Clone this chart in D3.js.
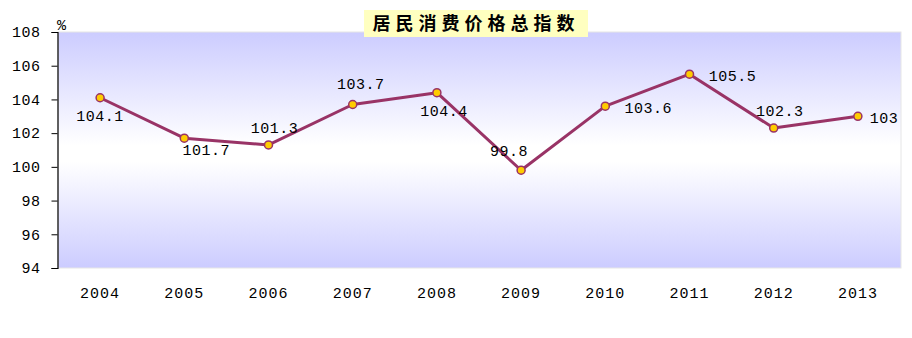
<!DOCTYPE html>
<html>
<head>
<meta charset="utf-8">
<script src="https://cdn.jsdelivr.net/npm/d3@7/dist/d3.min.js"></script>
<style>
  html, body { margin: 0; padding: 0; background: #fff; }
  svg { display: block; }
  .mono { font-family: "Liberation Mono", "DejaVu Sans Mono", monospace; }
</style>
</head>
<body>
<svg id="chart" width="912" height="338"></svg>
<script>
const title = "居民消费价格总指数";
const unitLabel = "%";
const years = ["2004","2005","2006","2007","2008","2009","2010","2011","2012","2013"];
const values = [104.1, 101.7, 101.3, 103.7, 104.4, 99.8, 103.6, 105.5, 102.3, 103];
const valueLabels = ["104.1","101.7","101.3","103.7","104.4","99.8","103.6","105.5","102.3","103"];
const yTicks = [94, 96, 98, 100, 102, 104, 106, 108];

// label offsets relative to the point (pixels)
const labelOffsets = [[0,18],[22,12],[6,-17],[8,-21],[7,18],[-12,-19],[43,2],[43,2],[6,-17],[26,1]];

const svg = d3.select("#chart");
const pL = 58, pR = 900, pT = 32, pB = 268;

const x = d3.scalePoint().domain(years).range([pL, pR]).padding(0.5);
const y = d3.scaleLinear().domain([94, 108]).range([pB, pT]);

const defs = svg.append("defs");
const grad = defs.append("linearGradient").attr("id","bg").attr("x1",0).attr("x2",0).attr("y1",0).attr("y2",1);
grad.append("stop").attr("offset","0%").attr("stop-color","#ccccff");
grad.append("stop").attr("offset","48%").attr("stop-color","#ffffff");
grad.append("stop").attr("offset","55%").attr("stop-color","#ffffff");
grad.append("stop").attr("offset","100%").attr("stop-color","#ccccff");

svg.append("rect").attr("x", pL).attr("y", pT).attr("width", pR - pL + 1).attr("height", pB - pT)
  .attr("fill","url(#bg)").attr("stroke","#e6e6e6").attr("stroke-width",1);

// y axis
const yAxis = svg.append("g").attr("transform", `translate(${pL - 0.5},0)`)
  .call(d3.axisLeft(y).tickValues(yTicks).tickSize(6).tickPadding(11).tickFormat(d3.format("d")));
yAxis.select(".domain").attr("stroke","#000").attr("stroke-width",1.2);
yAxis.selectAll(".tick line").attr("stroke","#000");
yAxis.selectAll("text").attr("class","mono").attr("font-size",15).attr("fill","#000")
  .attr("letter-spacing","0.5px");

// x labels
svg.append("g").selectAll("text").data(years).join("text")
  .attr("class","mono")
  .attr("x", d => x(d)).attr("y", 298)
  .attr("text-anchor","middle").attr("font-size",15).attr("letter-spacing","1px").attr("fill","#000")
  .text(d => d);

// unit
svg.append("text").attr("class","mono").attr("x", 57).attr("y", 30).attr("font-size",15).attr("fill","#000").text(unitLabel);

// line
const line = d3.line().x((d,i) => x(years[i])).y(d => y(d));
svg.append("path").datum(values).attr("d", line).attr("fill","none")
  .attr("stroke","#993366").attr("stroke-width",3).attr("stroke-linejoin","round");

svg.append("g").selectAll("circle").data(values).join("circle")
  .attr("cx", (d,i) => x(years[i])).attr("cy", d => y(d)).attr("r", 4)
  .attr("fill","#ffcc00").attr("stroke","#993366").attr("stroke-width",1.5);

// value labels
svg.append("g").selectAll("text").data(values).join("text")
  .attr("class","mono")
  .attr("x", (d,i) => x(years[i]) + labelOffsets[i][0])
  .attr("y", (d,i) => y(d) + labelOffsets[i][1])
  .attr("dy","0.35em")
  .attr("text-anchor","middle").attr("font-size",15).attr("letter-spacing","0.5px").attr("fill","#000")
  .text((d,i) => valueLabels[i]);

// title
svg.append("rect").attr("x", 364).attr("y", 10).attr("width", 224).attr("height", 27).attr("fill","#ffffc0");
svg.append("text").attr("x", 476).attr("y", 24).attr("dy","0.36em").attr("text-anchor","middle")
  .attr("font-family","'Noto Sans CJK SC', sans-serif").attr("font-weight","bold")
  .attr("font-size",18).attr("letter-spacing","5px").attr("fill","#000").text(title);
</script>
</body>
</html>
